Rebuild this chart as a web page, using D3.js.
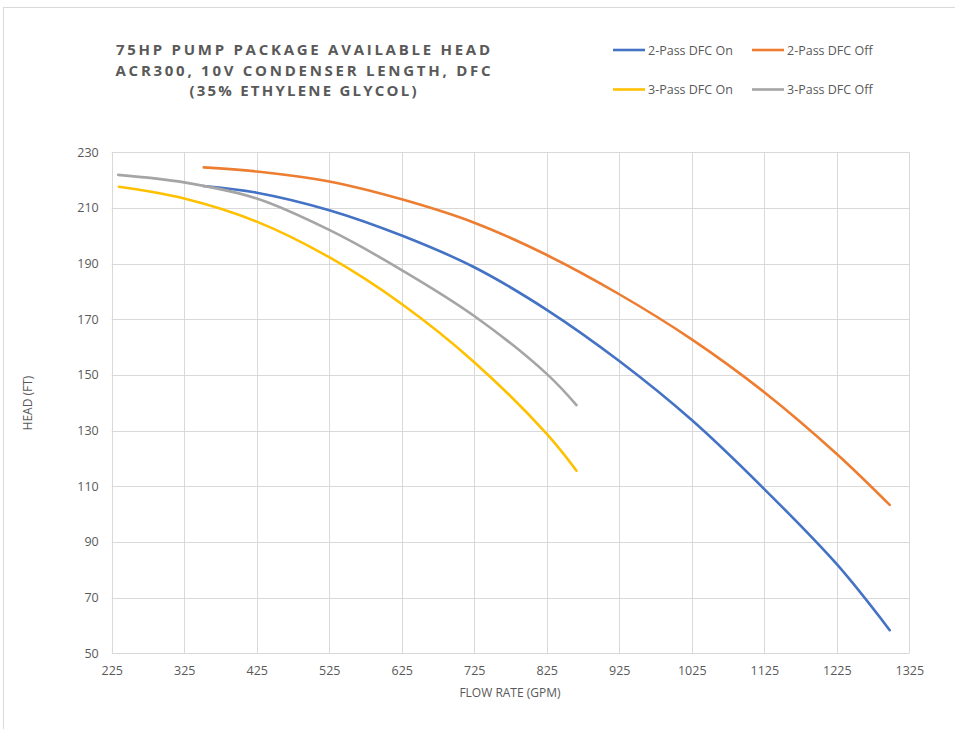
<!DOCTYPE html>
<html><head><meta charset="utf-8">
<script src="https://cdn.jsdelivr.net/npm/d3@7"></script>
<style>body{margin:0;background:#fff;}svg{display:block;font-family:"Open Sans",sans-serif;}</style>
</head><body><svg id="c" width="955" height="729"></svg>
<script>
const titleLines = ["75HP PUMP PACKAGE AVAILABLE HEAD", "ACR300, 10V CONDENSER LENGTH, DFC", "(35% ETHYLENE GLYCOL)"];
const xTicks = [225,325,425,525,625,725,825,925,1025,1125,1225,1325];
const yTicks = [50,70,90,110,130,150,170,190,210,230];
const seriesNames = ["2-Pass DFC On","2-Pass DFC Off","3-Pass DFC On","3-Pass DFC Off"];
const seriesColors = ["#4472C4","#ED7D31","#FFC000","#A5A5A5"];
const pass2OnFlow  = [351,425,525,625,725,825,925,1025,1125,1225,1298];
const pass2OnHead  = [217.9,215.5,209.2,200.1,188.7,173.4,155.0,133.8,109.0,82.0,58.3];
const pass2OffFlow = [352,425,525,625,725,825,925,1025,1125,1225,1298];
const pass2OffHead = [224.6,223.1,219.5,213.1,204.7,193.1,179.0,162.8,143.8,121.6,103.3];
const pass3OnFlow  = [235,325,425,525,625,725,825,866];
const pass3OnHead  = [217.6,213.4,205.1,192.3,175.5,154.6,128.8,115.6];
const pass3OffFlow = [234,325,425,525,625,725,825,866];
const pass3OffHead = [221.9,219.2,213.4,202.1,187.7,171.2,150.4,139.2];

const series = [
  {name: seriesNames[0], color: seriesColors[0], xs: pass2OnFlow, ys: pass2OnHead},
  {name: seriesNames[1], color: seriesColors[1], xs: pass2OffFlow, ys: pass2OffHead},
  {name: seriesNames[2], color: seriesColors[2], xs: pass3OnFlow, ys: pass3OnHead},
  {name: seriesNames[3], color: seriesColors[3], xs: pass3OffFlow, ys: pass3OffHead}
];

const svg = d3.select("#c");
const txt = "#595959", grid = "#d9d9d9";

// frame
svg.append("rect").attr("x",3.5).attr("y",7.5).attr("width",1000).attr("height",800)
  .attr("fill","none").attr("stroke",grid).attr("stroke-width",1);

const x = d3.scaleLinear().domain([225,1325]).range([111.7,909.3]);
const y = d3.scaleLinear().domain([50,230]).range([653.3,152.3]);

// gridlines
const g = svg.append("g");
g.selectAll(".hg").data(yTicks).join("line")
  .attr("x1",x(225)).attr("x2",x(1325))
  .attr("y1",d=>Math.round(y(d))+0.5).attr("y2",d=>Math.round(y(d))+0.5)
  .attr("stroke",grid).attr("stroke-width",1);
g.selectAll(".vg").data(xTicks).join("line")
  .attr("y1",y(50)).attr("y2",y(230))
  .attr("x1",d=>Math.round(x(d))+0.5).attr("x2",d=>Math.round(x(d))+0.5)
  .attr("stroke",grid).attr("stroke-width",1);

// axes
const xAxis = svg.append("g").attr("transform",`translate(0,${y(50)})`)
  .call(d3.axisBottom(x).tickValues(xTicks).tickSize(0).tickPadding(13).tickFormat(d3.format("d")));
xAxis.select(".domain").remove();
xAxis.selectAll("text").attr("fill",txt).attr("font-size",12.5).attr("font-family","Open Sans");
const yAxis = svg.append("g").attr("transform",`translate(${x(225)},0)`)
  .call(d3.axisLeft(y).tickValues(yTicks).tickSize(0).tickPadding(13).tickFormat(d3.format("d")));
yAxis.select(".domain").remove();
yAxis.selectAll("text").attr("fill",txt).attr("font-size",12.5).attr("font-family","Open Sans");

// axis titles
svg.append("text").attr("x",510).attr("y",697).attr("text-anchor","middle")
  .attr("fill",txt).attr("font-size",12).attr("font-family","Open Sans").text("FLOW RATE (GPM)");
svg.append("text").attr("transform","translate(32,403) rotate(-90)").attr("text-anchor","middle")
  .attr("fill",txt).attr("font-size",12).attr("font-family","Open Sans").text("HEAD (FT)");

// lines
const line = d3.line().curve(d3.curveCatmullRom.alpha(0.5)).x(d=>x(d[0])).y(d=>y(d[1]));
series.forEach(s=>{
  const pts = s.xs.map((v,i)=>[v,s.ys[i]]);
  svg.append("path").attr("d",line(pts)).attr("fill","none")
    .attr("stroke",s.color).attr("stroke-width",2.6).attr("stroke-linecap","round");
});

// title
const titleY = [55,75.5,96];
const titleW = [374,375,227];
titleLines.forEach((t,i)=>{
  svg.append("text").attr("x",303).attr("y",titleY[i]).attr("text-anchor","middle")
    .attr("font-weight","bold").attr("font-size",15).attr("fill",txt)
    .attr("textLength",titleW[i]).attr("lengthAdjust","spacing").text(t);
});

// legend
const legPos = [[613,50],[752,50],[613,89.5],[752,89.5]];
series.forEach((s,i)=>{
  const [lx,ly] = legPos[i];
  svg.append("line").attr("x1",lx).attr("x2",lx+32).attr("y1",ly).attr("y2",ly)
    .attr("stroke",s.color).attr("stroke-width",2.6);
  svg.append("text").attr("x",lx+35).attr("y",ly+4.5).attr("fill",txt)
    .attr("font-size",12.5).attr("font-family","Open Sans").text(s.name);
});
</script></body></html>
